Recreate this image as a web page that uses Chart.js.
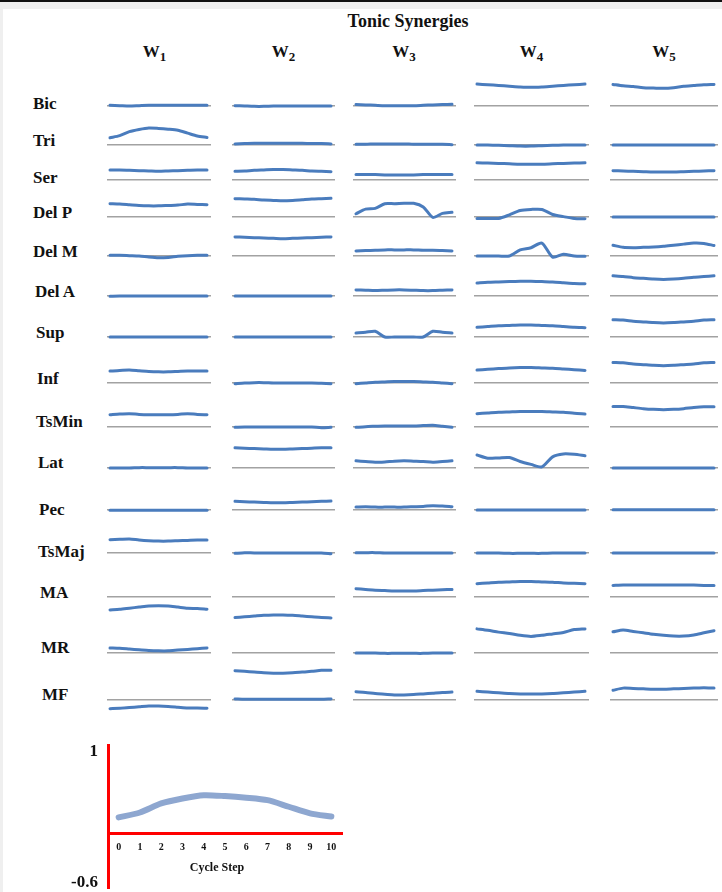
<!DOCTYPE html>
<html>
<head>
<meta charset="utf-8">
<title>Tonic Synergies</title>
<script src="https://cdn.jsdelivr.net/npm/chart.js@4/dist/chart.umd.min.js"></script>
<style>
  html, body { margin: 0; padding: 0; width: 722px; height: 892px; overflow: hidden; background: #efefef; }
  #topbar { position: absolute; left: 0; top: 0; width: 722px; height: 2px; background: #111; }
  #sheet { position: absolute; left: 3px; top: 9px; width: 719px; height: 883px; background: #fff; }
  #stage { position: absolute; left: 0; top: 0; width: 722px; height: 892px; overflow: hidden; }
  .txt { position: absolute; font-family: "Liberation Serif", "Times New Roman", serif; font-weight: bold;
         color: #111; white-space: nowrap; line-height: 1; }
  .txt sub { position: relative; top: 4px; vertical-align: baseline; font-size: 13px; }
  canvas { position: absolute; }
</style>
</head>
<body>
<div id="topbar"></div>
<div id="sheet"></div>
<div id="stage"></div>
<script>
// ---- data -------------------------------------------------------------
const muscles = ['Bic', 'Tri', 'Ser', 'Del P', 'Del M', 'Del A', 'Sup', 'Inf', 'TsMin', 'Lat', 'Pec', 'TsMaj', 'MA', 'MR', 'MF'];
const synergyIndex = ['1', '2', '3', '4', '5'];
const cycleSteps = [0, 1, 2, 3, 4, 5, 6, 7, 8, 9, 10];
const scaleTicks = [-0.6, 1];

// synergy weights per muscle (rows in muscle order), one value per cycle step
const w1 = [
  [0.02, 0.01, 0.00, 0.01, 0.02, 0.02, 0.02, 0.02, 0.02, 0.02, 0.02],
  [0.20, 0.26, 0.37, 0.43, 0.47, 0.46, 0.44, 0.41, 0.33, 0.25, 0.21],
  [0.28, 0.28, 0.27, 0.26, 0.25, 0.24, 0.25, 0.26, 0.27, 0.28, 0.28],
  [0.37, 0.36, 0.34, 0.32, 0.31, 0.31, 0.32, 0.33, 0.36, 0.35, 0.34],
  [0.02, 0.02, 0.01, 0.00, -0.03, -0.05, -0.04, -0.01, 0.01, 0.02, 0.02],
  [-0.01, 0.00, 0.00, 0.00, 0.00, 0.00, 0.00, 0.00, 0.00, 0.00, 0.00],
  [0.00, 0.00, 0.00, 0.00, 0.00, 0.00, 0.00, 0.00, 0.00, 0.00, 0.00],
  [0.33, 0.35, 0.36, 0.34, 0.32, 0.31, 0.31, 0.32, 0.33, 0.33, 0.33],
  [0.34, 0.36, 0.37, 0.35, 0.34, 0.34, 0.34, 0.35, 0.37, 0.35, 0.34],
  [0.00, 0.00, 0.00, 0.01, 0.01, 0.01, 0.01, 0.01, 0.00, 0.00, 0.00],
  [-0.01, -0.01, -0.01, -0.01, -0.01, -0.01, -0.01, -0.01, -0.01, -0.01, -0.01],
  [0.37, 0.38, 0.39, 0.36, 0.34, 0.33, 0.33, 0.34, 0.35, 0.36, 0.36],
  [-0.36, -0.34, -0.31, -0.28, -0.25, -0.24, -0.25, -0.28, -0.31, -0.32, -0.34],
  [0.14, 0.13, 0.11, 0.09, 0.07, 0.06, 0.06, 0.08, 0.10, 0.12, 0.14],
  [-0.24, -0.23, -0.21, -0.19, -0.17, -0.17, -0.18, -0.20, -0.22, -0.22, -0.23]
];
const w2 = [
  [0.01, 0.00, -0.01, -0.01, 0.00, 0.00, 0.00, 0.00, 0.00, 0.00, 0.00],
  [0.03, 0.04, 0.05, 0.05, 0.05, 0.05, 0.05, 0.05, 0.04, 0.04, 0.03],
  [0.24, 0.25, 0.27, 0.28, 0.29, 0.29, 0.28, 0.27, 0.25, 0.24, 0.23],
  [0.51, 0.50, 0.49, 0.47, 0.46, 0.45, 0.46, 0.48, 0.50, 0.51, 0.52],
  [0.53, 0.52, 0.51, 0.50, 0.49, 0.48, 0.49, 0.50, 0.51, 0.52, 0.53],
  [0.00, 0.00, 0.00, 0.00, 0.00, 0.00, 0.00, 0.00, 0.00, 0.00, 0.00],
  [0.00, 0.00, 0.00, 0.00, 0.00, 0.00, 0.00, 0.00, 0.00, 0.00, 0.00],
  [-0.02, 0.00, 0.01, 0.01, 0.00, 0.00, 0.00, 0.00, 0.00, -0.01, -0.02],
  [-0.01, 0.00, 0.00, 0.00, 0.00, 0.00, 0.00, 0.00, 0.00, -0.02, -0.01],
  [0.56, 0.55, 0.54, 0.53, 0.52, 0.52, 0.53, 0.54, 0.55, 0.56, 0.56],
  [0.24, 0.23, 0.22, 0.21, 0.20, 0.20, 0.21, 0.22, 0.23, 0.24, 0.25],
  [-0.01, 0.01, 0.00, 0.00, 0.00, 0.00, 0.00, 0.00, 0.00, 0.00, -0.02],
  [-0.57, -0.55, -0.53, -0.51, -0.50, -0.50, -0.51, -0.53, -0.55, -0.57, -0.58],
  [-0.49, -0.51, -0.53, -0.55, -0.56, -0.56, -0.55, -0.53, -0.51, -0.48, -0.48],
  [0.03, 0.02, 0.02, 0.02, 0.02, 0.02, 0.02, 0.02, 0.02, 0.02, 0.03]
];
const w3 = [
  [0.04, 0.03, 0.02, 0.01, 0.01, 0.01, 0.01, 0.02, 0.03, 0.04, 0.05],
  [0.02, 0.02, 0.03, 0.03, 0.03, 0.03, 0.02, 0.02, 0.02, 0.02, 0.01],
  [0.15, 0.15, 0.15, 0.14, 0.14, 0.14, 0.14, 0.15, 0.15, 0.15, 0.15],
  [0.09, 0.22, 0.24, 0.37, 0.37, 0.38, 0.38, 0.28, -0.01, 0.10, 0.13],
  [0.14, 0.15, 0.16, 0.17, 0.17, 0.17, 0.17, 0.16, 0.16, 0.15, 0.14],
  [0.17, 0.16, 0.15, 0.16, 0.17, 0.17, 0.16, 0.15, 0.15, 0.16, 0.17],
  [0.11, 0.13, 0.16, 0.00, 0.00, 0.00, 0.00, 0.00, 0.16, 0.13, 0.11],
  [-0.02, 0.00, 0.02, 0.03, 0.04, 0.04, 0.04, 0.03, 0.02, 0.00, -0.02],
  [-0.01, 0.01, 0.02, 0.03, 0.03, 0.03, 0.03, 0.04, 0.05, 0.02, -0.01],
  [0.20, 0.18, 0.16, 0.17, 0.19, 0.20, 0.19, 0.18, 0.16, 0.18, 0.20],
  [0.08, 0.09, 0.08, 0.08, 0.08, 0.08, 0.09, 0.10, 0.12, 0.11, 0.09],
  [0.01, 0.01, 0.01, 0.00, 0.00, 0.00, 0.00, 0.00, 0.00, 0.00, 0.00],
  [0.23, 0.21, 0.19, 0.18, 0.17, 0.17, 0.17, 0.18, 0.19, 0.20, 0.21],
  [0.00, 0.00, 0.00, -0.01, -0.01, -0.01, -0.01, -0.01, 0.00, 0.00, 0.00],
  [0.23, 0.21, 0.18, 0.16, 0.14, 0.14, 0.15, 0.17, 0.19, 0.21, 0.22]
];
const w4 = [
  [0.61, 0.59, 0.57, 0.55, 0.53, 0.52, 0.53, 0.55, 0.57, 0.59, 0.61],
  [0.00, 0.00, -0.01, -0.02, -0.03, -0.03, -0.02, -0.01, 0.00, 0.00, 0.00],
  [0.48, 0.47, 0.46, 0.45, 0.44, 0.44, 0.44, 0.45, 0.46, 0.47, 0.48],
  [-0.04, -0.04, -0.04, 0.06, 0.18, 0.21, 0.21, 0.07, 0.01, -0.04, -0.05],
  [0.00, 0.00, 0.00, 0.00, 0.17, 0.23, 0.36, -0.03, 0.05, 0.00, -0.01],
  [0.36, 0.38, 0.39, 0.40, 0.41, 0.41, 0.40, 0.39, 0.37, 0.35, 0.34],
  [0.27, 0.29, 0.31, 0.32, 0.33, 0.33, 0.32, 0.31, 0.29, 0.27, 0.26],
  [0.36, 0.38, 0.40, 0.42, 0.43, 0.43, 0.42, 0.41, 0.39, 0.37, 0.35],
  [0.37, 0.39, 0.41, 0.42, 0.43, 0.43, 0.43, 0.42, 0.41, 0.38, 0.36],
  [0.36, 0.27, 0.28, 0.29, 0.18, 0.10, 0.03, 0.31, 0.39, 0.38, 0.34],
  [0.00, 0.00, 0.00, 0.00, 0.00, 0.00, 0.00, 0.00, 0.00, 0.00, 0.00],
  [0.00, 0.00, 0.00, -0.01, -0.01, -0.01, -0.01, 0.00, 0.00, 0.00, 0.00],
  [0.37, 0.39, 0.41, 0.42, 0.43, 0.43, 0.42, 0.41, 0.39, 0.38, 0.37],
  [0.67, 0.63, 0.58, 0.54, 0.49, 0.46, 0.49, 0.53, 0.57, 0.65, 0.67],
  [0.24, 0.22, 0.20, 0.18, 0.17, 0.17, 0.17, 0.18, 0.20, 0.22, 0.24]
];
const w5 = [
  [0.60, 0.56, 0.54, 0.51, 0.50, 0.49, 0.51, 0.55, 0.57, 0.59, 0.60],
  [0.00, 0.00, 0.00, 0.00, 0.00, 0.00, 0.00, 0.00, 0.00, 0.00, 0.00],
  [0.26, 0.25, 0.24, 0.23, 0.22, 0.22, 0.22, 0.23, 0.24, 0.25, 0.26],
  [0.00, 0.00, 0.00, 0.00, 0.00, 0.00, 0.00, 0.00, 0.00, 0.00, 0.00],
  [0.30, 0.24, 0.23, 0.24, 0.25, 0.27, 0.30, 0.33, 0.36, 0.35, 0.29],
  [0.56, 0.54, 0.51, 0.49, 0.47, 0.46, 0.47, 0.49, 0.52, 0.54, 0.56],
  [0.48, 0.47, 0.44, 0.42, 0.40, 0.39, 0.40, 0.42, 0.44, 0.47, 0.48],
  [0.57, 0.56, 0.53, 0.51, 0.49, 0.48, 0.49, 0.51, 0.53, 0.56, 0.57],
  [0.57, 0.57, 0.54, 0.51, 0.49, 0.48, 0.49, 0.51, 0.54, 0.56, 0.56],
  [0.00, 0.00, 0.00, 0.00, 0.00, 0.00, 0.00, 0.00, 0.00, 0.00, 0.00],
  [0.01, 0.01, 0.01, 0.01, 0.01, 0.01, 0.01, 0.01, 0.01, 0.01, 0.01],
  [0.00, 0.00, 0.00, 0.00, 0.00, 0.00, 0.00, 0.00, 0.00, 0.00, 0.00],
  [0.32, 0.33, 0.33, 0.33, 0.33, 0.33, 0.33, 0.33, 0.33, 0.32, 0.32],
  [0.59, 0.64, 0.60, 0.56, 0.52, 0.49, 0.47, 0.47, 0.50, 0.56, 0.62],
  [0.27, 0.33, 0.32, 0.31, 0.30, 0.30, 0.31, 0.32, 0.33, 0.34, 0.33]
];
const synergies = [w1, w2, w3, w4, w5];
// the example curve of the scale key is the triceps profile of W1
const keyCurve = w1[1];

// ---- layout -----------------------------------------------------------
const SERIF = '"Liberation Serif", "Times New Roman", serif';
const LINE_BLUE = '#4a7cbd';
const BASE_GRAY = '#a2a2a2';
const rowZeroY = [106, 144.7, 180.3, 217, 255.7, 296, 336.7, 383.3, 427, 468, 509.7, 552.7, 597.3, 652.7, 699.7];
const rowLabelY = [102.7, 140, 176.7, 212, 250.7, 290.7, 331.7, 377.7, 420.7, 462.3, 508.7, 551.3, 592.3, 647.3, 694.3];
const rowLabelX = [33, 33, 33, 33, 33, 35, 36, 37, 36, 38, 39, 38, 40, 41, 42];
const colSpan = [[110, 207], [235, 331], [356, 452], [477, 585], [613, 714]];
const headerX = [154.5, 283.5, 404, 531.5, 664];
const CELL_MIN = -0.75, CELL_MAX = 1.0, CELL_H = 63;          // 36 px per unit
const CELL_ZERO = CELL_H * CELL_MAX / (CELL_MAX - CELL_MIN);   // zero line offset from cell top
const EDGE = 3.5;                                              // baseline overhang past the curve

const stage = document.getElementById('stage');

function addText(html, x, y, size, anchor) {
  const d = document.createElement('div');
  d.className = 'txt';
  d.innerHTML = html;
  d.style.left = x + 'px';
  d.style.top = y + 'px';
  d.style.fontSize = size + 'px';
  d.style.transform = anchor === 'center' ? 'translate(-50%, -50%)' : 'translate(0, -50%)';
  stage.appendChild(d);
}

// headings
addText('Tonic Synergies', 408, 21, 18, 'center');
synergyIndex.forEach((s, c) => addText('W<sub>' + s + '</sub>', headerX[c], 51, 17, 'center'));
muscles.forEach((m, r) => addText(m, rowLabelX[r], rowLabelY[r], 17, 'left'));

// one small line chart per muscle / synergy
function drawCell(values, col, row) {
  const [x0, x1] = colSpan[col];
  const step = (x1 - x0) / 10;
  const left = Math.round(x0 - EDGE);
  const width = Math.round(x1 + EDGE) - left;
  const top = Math.round(rowZeroY[row] - CELL_ZERO);
  const cv = document.createElement('canvas');
  cv.width = width; cv.height = CELL_H;
  cv.style.left = left + 'px'; cv.style.top = top + 'px';
  cv.style.width = width + 'px'; cv.style.height = CELL_H + 'px';
  stage.appendChild(cv);
  const xMin = (left - x0) / step;
  new Chart(cv, {
    type: 'line',
    data: {
      datasets: [{
        data: cycleSteps.map((s, i) => ({ x: s, y: values[i] })),
        borderColor: LINE_BLUE, borderWidth: 3, pointRadius: 0, fill: false,
        tension: 0.25, borderCapStyle: 'round', borderJoinStyle: 'round'
      }]
    },
    options: {
      responsive: false, animation: false, events: [],
      layout: { padding: 0 },
      plugins: { legend: { display: false }, tooltip: { enabled: false } },
      scales: {
        x: { type: 'linear', display: false, min: xMin, max: xMin + width / step },
        y: {
          min: CELL_MIN, max: CELL_MAX,
          afterBuildTicks: s => { s.ticks = [{ value: 0 }]; },
          afterFit: s => { s.width = 0; },
          ticks: { display: false },
          border: { display: false },
          grid: { color: BASE_GRAY, lineWidth: 1.5, drawTicks: false }
        }
      }
    }
  });
}
synergies.forEach((w, c) => w.forEach((vals, r) => drawCell(vals, c, r)));

// scale key: red axes, -0.6 … 1 over the cycle steps
(function drawKey() {
  // the canvas runs past the bottom edge so the plot area (which keeps room
  // for half a y label below it) ends just above the page bottom
  const KEY_H = 184;
  const cv = document.createElement('canvas');
  cv.width = 360; cv.height = KEY_H;
  cv.style.left = '0px'; cv.style.top = '725px';
  cv.style.width = '360px'; cv.style.height = KEY_H + 'px';
  stage.appendChild(cv);
  new Chart(cv, {
    type: 'line',
    data: {
      labels: cycleSteps.map(String),
      datasets: [{
        data: keyCurve, borderColor: '#8ea7d0', borderWidth: 6, pointRadius: 0,
        tension: 0.25, borderCapStyle: 'round', fill: false
      }]
    },
    options: {
      responsive: false, animation: false, events: [],
      layout: { padding: { top: 18, right: 18, left: 0, bottom: 4 } },
      plugins: { legend: { display: false }, tooltip: { enabled: false } },
      scales: {
        x: {
          type: 'category', offset: true, position: { y: 0 },
          grid: { display: false, drawTicks: false },
          border: { color: '#ff0000', width: 3 },
          ticks: { font: { family: SERIF, size: 10, weight: 'bold' }, color: '#111', padding: 8, maxRotation: 0, autoSkip: false }
        },
        y: {
          min: -0.67, max: 1.08,
          afterBuildTicks: s => { s.ticks = scaleTicks.map(v => ({ value: v })); },
          afterFit: s => { s.width = 108; },
          grid: { display: false, drawTicks: false },
          border: { color: '#ff0000', width: 3 },
          ticks: { font: { family: SERIF, size: 17, weight: 'bold' }, color: '#111', padding: 10 }
        }
      }
    }
  });
  addText('Cycle Step', 217, 867, 12, 'center');
})();
</script>
</body>
</html>
